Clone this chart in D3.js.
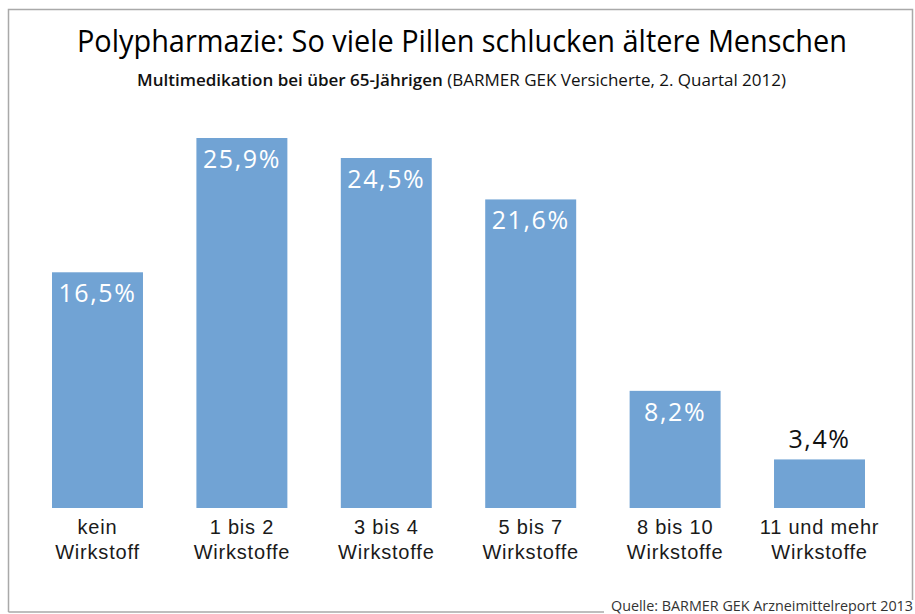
<!DOCTYPE html>
<html>
<head>
<meta charset="utf-8">
<script src="https://cdn.jsdelivr.net/npm/d3@7"></script>
<style>
  html, body { margin: 0; padding: 0; background: #fff; }
  svg { display: block; font-family: "Open Sans", "Noto Sans", sans-serif; }
</style>
</head>
<body>
<svg id="chart" width="915" height="614"></svg>
<script>
// ---- data ----
const categories = ["kein Wirkstoff", "1 bis 2 Wirkstoffe", "3 bis 4 Wirkstoffe", "5 bis 7 Wirkstoffe", "8 bis 10 Wirkstoffe", "11 und mehr Wirkstoffe"];
const categoryLine1 = ["kein", "1 bis 2", "3 bis 4", "5 bis 7", "8 bis 10", "11 und mehr"];
const categoryLine2 = ["Wirkstoff", "Wirkstoffe", "Wirkstoffe", "Wirkstoffe", "Wirkstoffe", "Wirkstoffe"];
const values = [16.5, 25.9, 24.5, 21.6, 8.2, 3.4];
const valueLabels = ["16,5%", "25,9%", "24,5%", "21,6%", "8,2%", "3,4%"];
const titleText = "Polypharmazie: So viele Pillen schlucken ältere Menschen";
const subtitleBold = "Multimedikation bei über 65-Jährigen";
const subtitleRest = " (BARMER GEK Versicherte, 2. Quartal 2012)";
const sourceText = "Quelle: BARMER GEK Arzneimittelreport 2013";

// ---- drawing ----
const svg = d3.select("#chart");
const barColor = "#71a3d4";

// frame
const frame = svg.append("g").attr("fill", "none").attr("stroke", "#a9a9a9").attr("stroke-width", 1.5);
frame.append("path").attr("d", "M8.5,612 L8.5,9.5 L912.5,9.5 L912.5,600");
frame.append("path").attr("d", "M8.5,612 L604,612");

// scales
const x = d3.scaleBand().domain(categories).range([52, 865]).paddingInner(0.37).paddingOuter(0);
const y = d3.scaleLinear().domain([0, d3.max(values)]).range([508, 138]);

const data = categories.map((c, i) => ({ c, v: values[i], label: valueLabels[i], l1: categoryLine1[i], l2: categoryLine2[i] }));

// bars
svg.append("g").selectAll("rect").data(data).join("rect")
  .attr("x", d => x(d.c))
  .attr("y", d => y(d.v))
  .attr("width", x.bandwidth())
  .attr("height", d => y(0) - y(d.v))
  .attr("fill", barColor);

// value labels
svg.append("g").selectAll("text").data(data).join("text")
  .attr("x", d => x(d.c) + x.bandwidth() / 2)
  .attr("y", d => (y(0) - y(d.v) > 60) ? y(d.v) + 30 : y(d.v) - 11)
  .attr("text-anchor", "middle")
  .attr("font-size", 25)
  .attr("letter-spacing", 1.6)
  .attr("fill", d => (y(0) - y(d.v) > 60) ? "#fff" : "#111")
  .text(d => d.label);

// category labels (axis)
const axis = d3.axisBottom(x).tickSize(0).tickFormat(() => "");
const ax = svg.append("g").attr("transform", `translate(0,${y(0)})`).call(axis);
ax.select(".domain").remove();
ax.selectAll(".tick").each(function(c, i) {
  const t = d3.select(this).append("text")
    .attr("fill", "#1a1a1a")
    .attr("font-size", 20)
    .attr("letter-spacing", 0.8)
    .attr("text-anchor", "middle");
  t.append("tspan").attr("x", 0).attr("y", 26).text(data[i].l1);
  t.append("tspan").attr("x", 0).attr("y", 51).text(data[i].l2);
});

// title
svg.append("text")
  .attr("x", 462).attr("y", 52)
  .attr("text-anchor", "middle")
  .attr("font-size", 31)
  .attr("fill", "#000")
  .attr("textLength", 770)
  .attr("lengthAdjust", "spacingAndGlyphs")
  .text(titleText);

// subtitle
const sub = svg.append("text")
  .attr("x", 461.5).attr("y", 86)
  .attr("text-anchor", "middle")
  .attr("font-size", 16)
  .attr("fill", "#111")
  .attr("textLength", 649)
  .attr("lengthAdjust", "spacingAndGlyphs");
sub.append("tspan").attr("font-weight", 600).text(subtitleBold);
sub.append("tspan").text(subtitleRest);

// source
svg.append("text")
  .attr("x", 913).attr("y", 611)
  .attr("text-anchor", "end")
  .attr("font-size", 14.5)
  .attr("fill", "#333")
  .attr("textLength", 302)
  .attr("lengthAdjust", "spacingAndGlyphs")
  .text(sourceText);
</script>
</body>
</html>
